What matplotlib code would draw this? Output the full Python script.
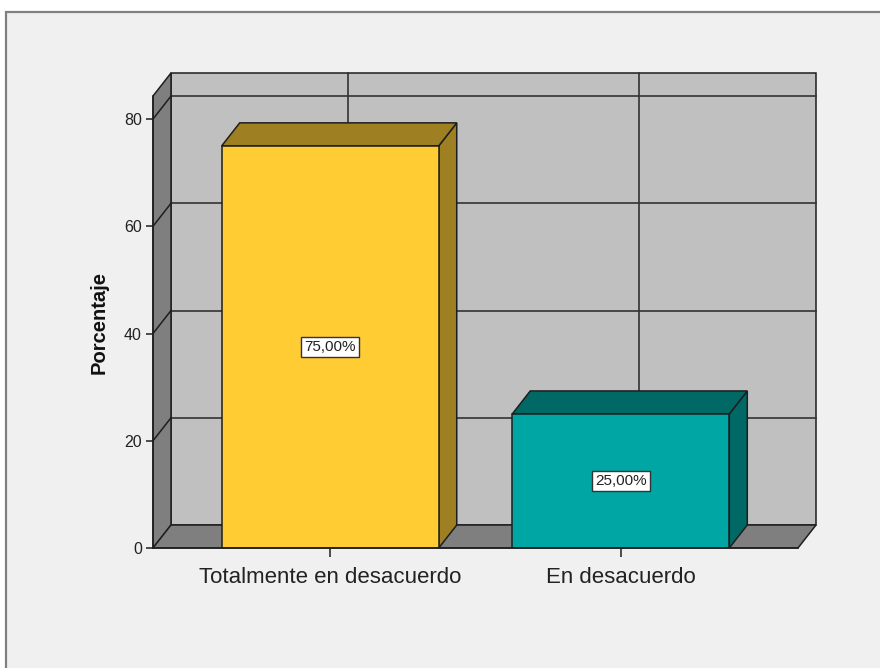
import matplotlib
matplotlib.use("Agg")
import matplotlib.pyplot as plt
from matplotlib.patches import Polygon, Rectangle

categories = ["Totalmente en desacuerdo", "En desacuerdo"]
values = [75.0, 25.0]
value_labels = ["75,00%", "25,00%"]
yticks = [0, 20, 40, 60, 80]
ylabel = "Porcentaje"

front_colors = ["#ffcc33", "#00a6a3"]
shade_colors = ["#9e7f22", "#006966"]

W, H = 880, 668
fig = plt.figure(figsize=(W / 100, H / 100), dpi=100)
fig.patch.set_facecolor("white")

# Chart frame
fig.patches.append(Rectangle((6 / W, -0.1), 1.2, (H - 12) / H + 0.1,
                             transform=fig.transFigure, facecolor="#f0f0f0",
                             edgecolor="#808080", linewidth=1.6, zorder=-10))

plt.rcParams["font.family"] = ["Liberation Sans", "DejaVu Sans"]

left, right, top, bottom = 153, 798, 96, 548
ax = fig.add_axes([left / W, 1 - bottom / H, (right - left) / W, (bottom - top) / H])
ax.set_facecolor("none")
x0, x1 = -0.61, 1.61
y0, y1 = 0.0, 84.3
ax.set_xlim(x0, x1)
ax.set_ylim(y0, y1)

# depth offsets (in data units) for the 3D effect
ox = 18 * (x1 - x0) / (right - left)
oy = 23 * (y1 - y0) / (bottom - top)

edge = "#1e1e1e"
lw = 1.1

def poly(pts, fc, z):
    ax.add_patch(Polygon(pts, closed=True, facecolor=fc, edgecolor=edge,
                         linewidth=lw, zorder=z, clip_on=False, joinstyle="miter"))

# back wall
poly([(x0 + ox, oy), (x1 + ox, oy), (x1 + ox, y1 + oy), (x0 + ox, y1 + oy)], "#c0c0c0", 1)
# grid on back wall
for v in yticks[1:]:
    ax.plot([x0 + ox, x1 + ox], [v + oy, v + oy], color="#333333", lw=1.2, zorder=2, clip_on=False)
for i in range(len(categories)):
    ax.plot([i + ox, i + ox], [oy, y1 + oy], color="#333333", lw=1.2, zorder=2, clip_on=False)
# left wall
poly([(x0, 0), (x0 + ox, oy), (x0 + ox, y1 + oy), (x0, y1)], "#7f7f7f", 3)
for v in yticks[1:]:
    ax.plot([x0, x0 + ox], [v, v + oy], color=edge, lw=1.1, zorder=3.5, clip_on=False)
# floor
poly([(x0, 0), (x1, 0), (x1 + ox, oy), (x0 + ox, oy)], "#7f7f7f", 3)

# bars
bw = 0.747
for i, (v, fc, sc) in enumerate(zip(values, front_colors, shade_colors)):
    a, b = i - bw / 2, i + bw / 2
    poly([(b, 0), (b + ox, oy), (b + ox, v + oy), (b, v)], sc, 5)
    poly([(a, v), (b, v), (b + ox, v + oy), (a + ox, v + oy)], sc, 5)
    ax.bar(i, v, width=bw, color=fc, edgecolor=edge, linewidth=lw, zorder=6)
    ax.text(i, v / 2, value_labels[i], ha="center", va="center", fontsize=11,
            color="#222222", zorder=8,
            bbox=dict(boxstyle="square,pad=0.2", facecolor="white",
                      edgecolor="#333333", linewidth=1.0))

for s in ["top", "right"]:
    ax.spines[s].set_visible(False)
for s in ["left", "bottom"]:
    ax.spines[s].set_color(edge)
    ax.spines[s].set_linewidth(lw)
    ax.spines[s].set_zorder(7)

ax.set_yticks(yticks)
ax.set_yticklabels([str(t) for t in yticks])
ax.set_xticks(range(len(categories)))
ax.set_xticklabels(categories)
ax.tick_params(axis="y", length=5, width=1.1, color=edge, pad=3, labelsize=11.5, labelcolor="#222222")
ax.tick_params(axis="x", length=6.5, width=1.1, color=edge, pad=7, labelsize=16, labelcolor="#222222")
ax.set_ylabel(ylabel, fontsize=14.5, fontweight="bold", labelpad=11, color="#111111")

fig.savefig("out.png", dpi=100)
